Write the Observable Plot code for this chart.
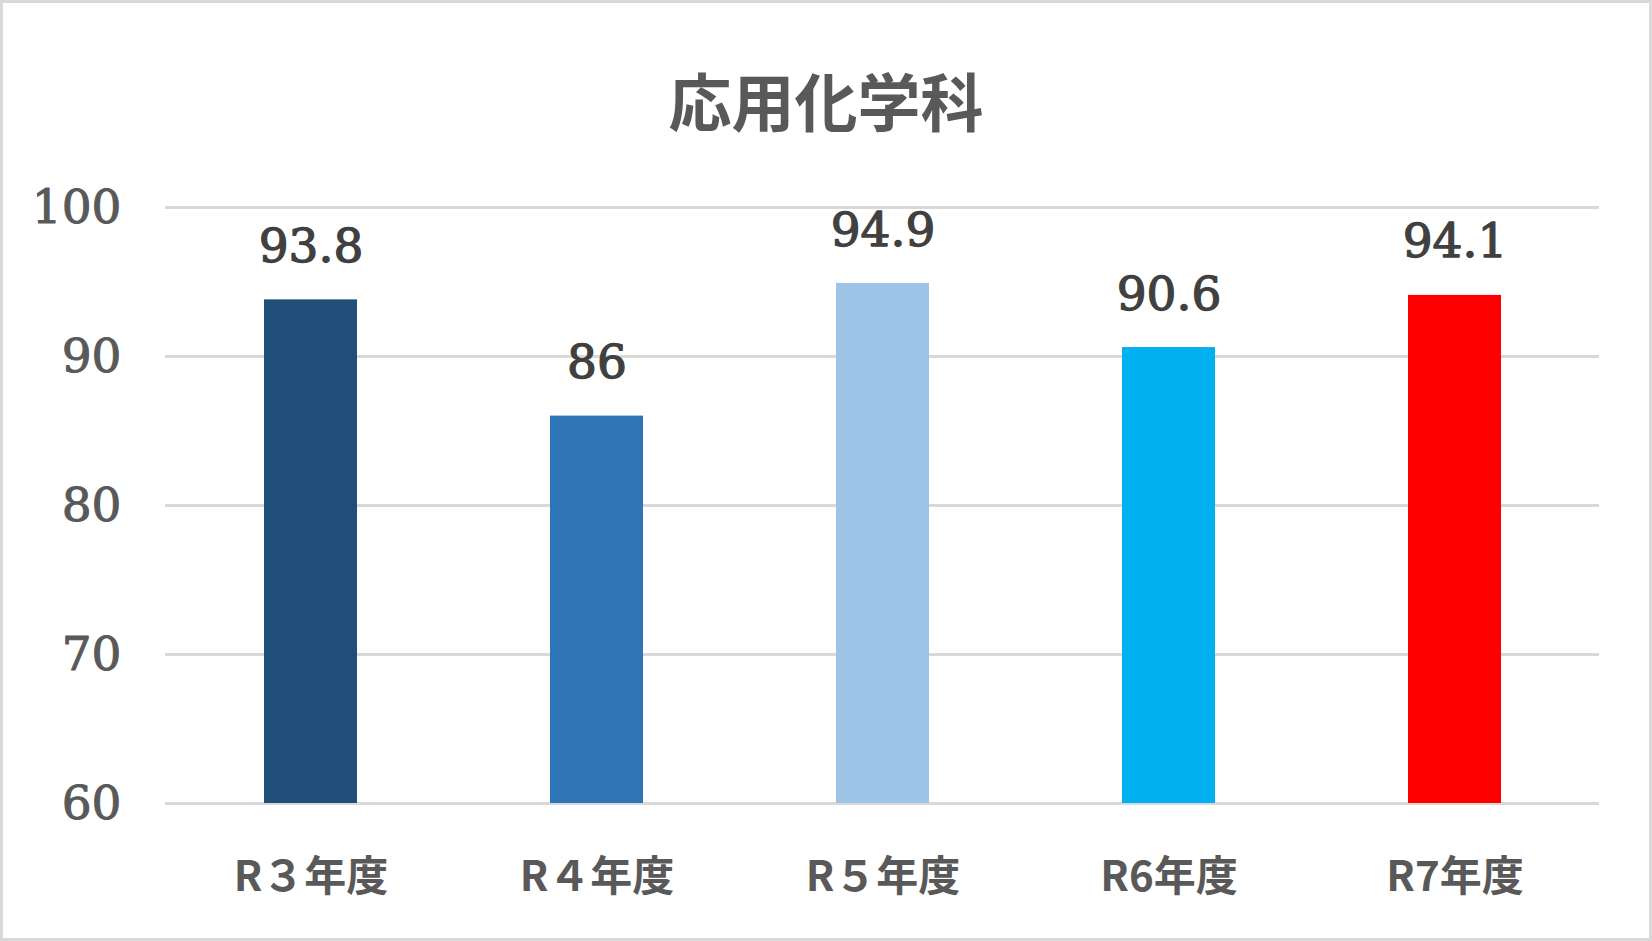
<!DOCTYPE html>
<html>
<head>
<meta charset="utf-8">
<script src="https://cdn.jsdelivr.net/npm/d3@7"></script>
<script src="https://cdn.jsdelivr.net/npm/@observablehq/plot@0.6"></script>
<style>
  html, body { margin: 0; padding: 0; background: #fff; }
  #wrap { position: relative; width: 1652px; height: 941px; overflow: hidden; background: #fff; }
  #frame { position: absolute; left: 0; top: 0; right: 0; bottom: 0; border: 3px solid #d9d9d9; box-sizing: border-box; pointer-events: none; }
  #title { height: 160px; line-height: 200px; text-align: center; font-family: "Noto Sans CJK JP", sans-serif; font-weight: 700; font-size: 63px; color: #595959; }
  #title span { display: inline-block; transform: translate(0px, -1px); }
</style>
</head>
<body>
<div id="wrap">
  <div id="title"><span>応用化学科</span></div>
  <div id="chart"></div>
  <div id="frame"></div>
</div>
<script>
const categories = ["R３年度", "R４年度", "R５年度", "R6年度", "R7年度"];
const values = [93.8, 86, 94.9, 90.6, 94.1];
const colors = ["#1F4E79", "#2E75B6", "#9DC3E6", "#00B0F0", "#FF0000"];
const yTicks = [60, 70, 80, 90, 100];

const data = categories.map((c, i) => ({category: c, value: values[i], color: colors[i]}));

const chart = Plot.plot({
  width: 1652,
  height: 781,
  marginTop: 47,
  marginBottom: 138,
  marginLeft: 165,
  marginRight: 53,
  style: {background: "#fff", overflow: "visible"},
  x: {domain: categories, paddingInner: 0.676, paddingOuter: 0.338, label: null},
  y: {domain: [60, 100], label: null},
  marks: [
    Plot.gridY(yTicks, {stroke: "#d9d9d9", strokeWidth: 3, strokeOpacity: 1}),
    Plot.barY(data, {x: "category", y1: 60, y2: "value", fill: "color"}),
    Plot.text(data, {x: "category", y: "value", text: d => String(d.value), dy: -53, lineAnchor: "middle",
      fontFamily: "DejaVu Serif", fontSize: 47, fill: "#404040", stroke: "#404040", strokeWidth: 1.3}),
    Plot.axisY(yTicks, {tickSize: 0, tickPadding: 44, fontFamily: "DejaVu Serif", fontSize: 47, fill: "#595959",
      textStroke: "#595959", textStrokeWidth: 1, textStrokeOpacity: 1, label: null, tickFormat: d => String(d)}),
    Plot.axisX({tickSize: 0, tickPadding: 58, fontFamily: "Noto Sans CJK JP", fontWeight: 700, fontSize: 42, fill: "#595959", label: null})
  ]
});
document.getElementById("chart").appendChild(chart);
</script>
</body>
</html>
